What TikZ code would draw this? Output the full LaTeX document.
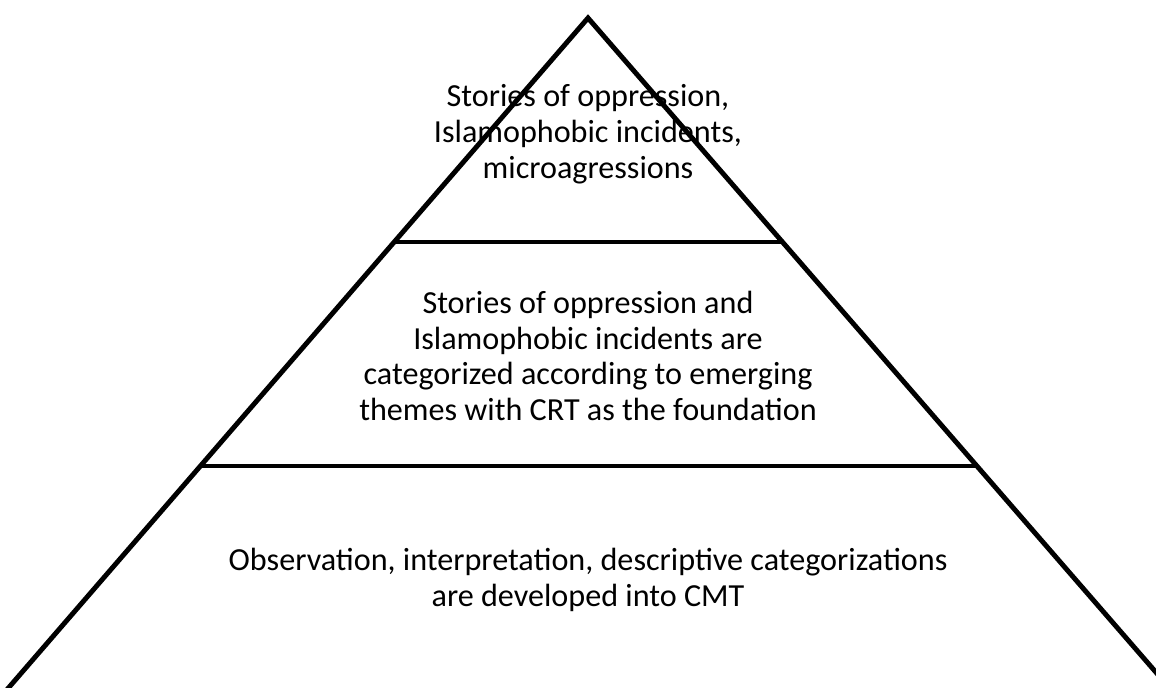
\documentclass[tikz,border=0pt]{standalone}
\usepackage{fontspec}
\setmainfont{Carlito}
\tikzset{
  level/.style={align=center, font=\fontsize{18.3pt}{20.4pt}\selectfont},
  edge/.style={line width=2.8pt, line join=miter}
}
\begin{document}
\begin{tikzpicture}[x=0.02cm, y=-0.02cm]
      \useasboundingbox (0,0) rectangle (1156,688);
      \clip (0,0) rectangle (1156,688);
      \draw
        (588,18) coordinate (top)
        (-2,700) coordinate (left)
        (1180,700) coordinate (right)
        (394,242) coordinate (a1)
        (783,242) coordinate (a2)
        (200,466) coordinate (b1)
        (976,466) coordinate (b2);
      \begin{scope}[edge]
        \draw (left) -- (top) -- (right);
        \draw (a1) to (a2);
        \draw (b1) to (b2);
      \end{scope}
      \node[level] (t1) at (588,134) {Stories of oppression,\\Islamophobic incidents,\\microagressions};
      \node[level] (t2) at (588,356) {Stories of oppression and\\Islamophobic incidents are\\categorized according to emerging\\themes with CRT as the foundation};
      \node[level] (t3) at (588,580) {Observation, interpretation, descriptive categorizations\\are developed into CMT};
    \end{tikzpicture}
\end{document}
